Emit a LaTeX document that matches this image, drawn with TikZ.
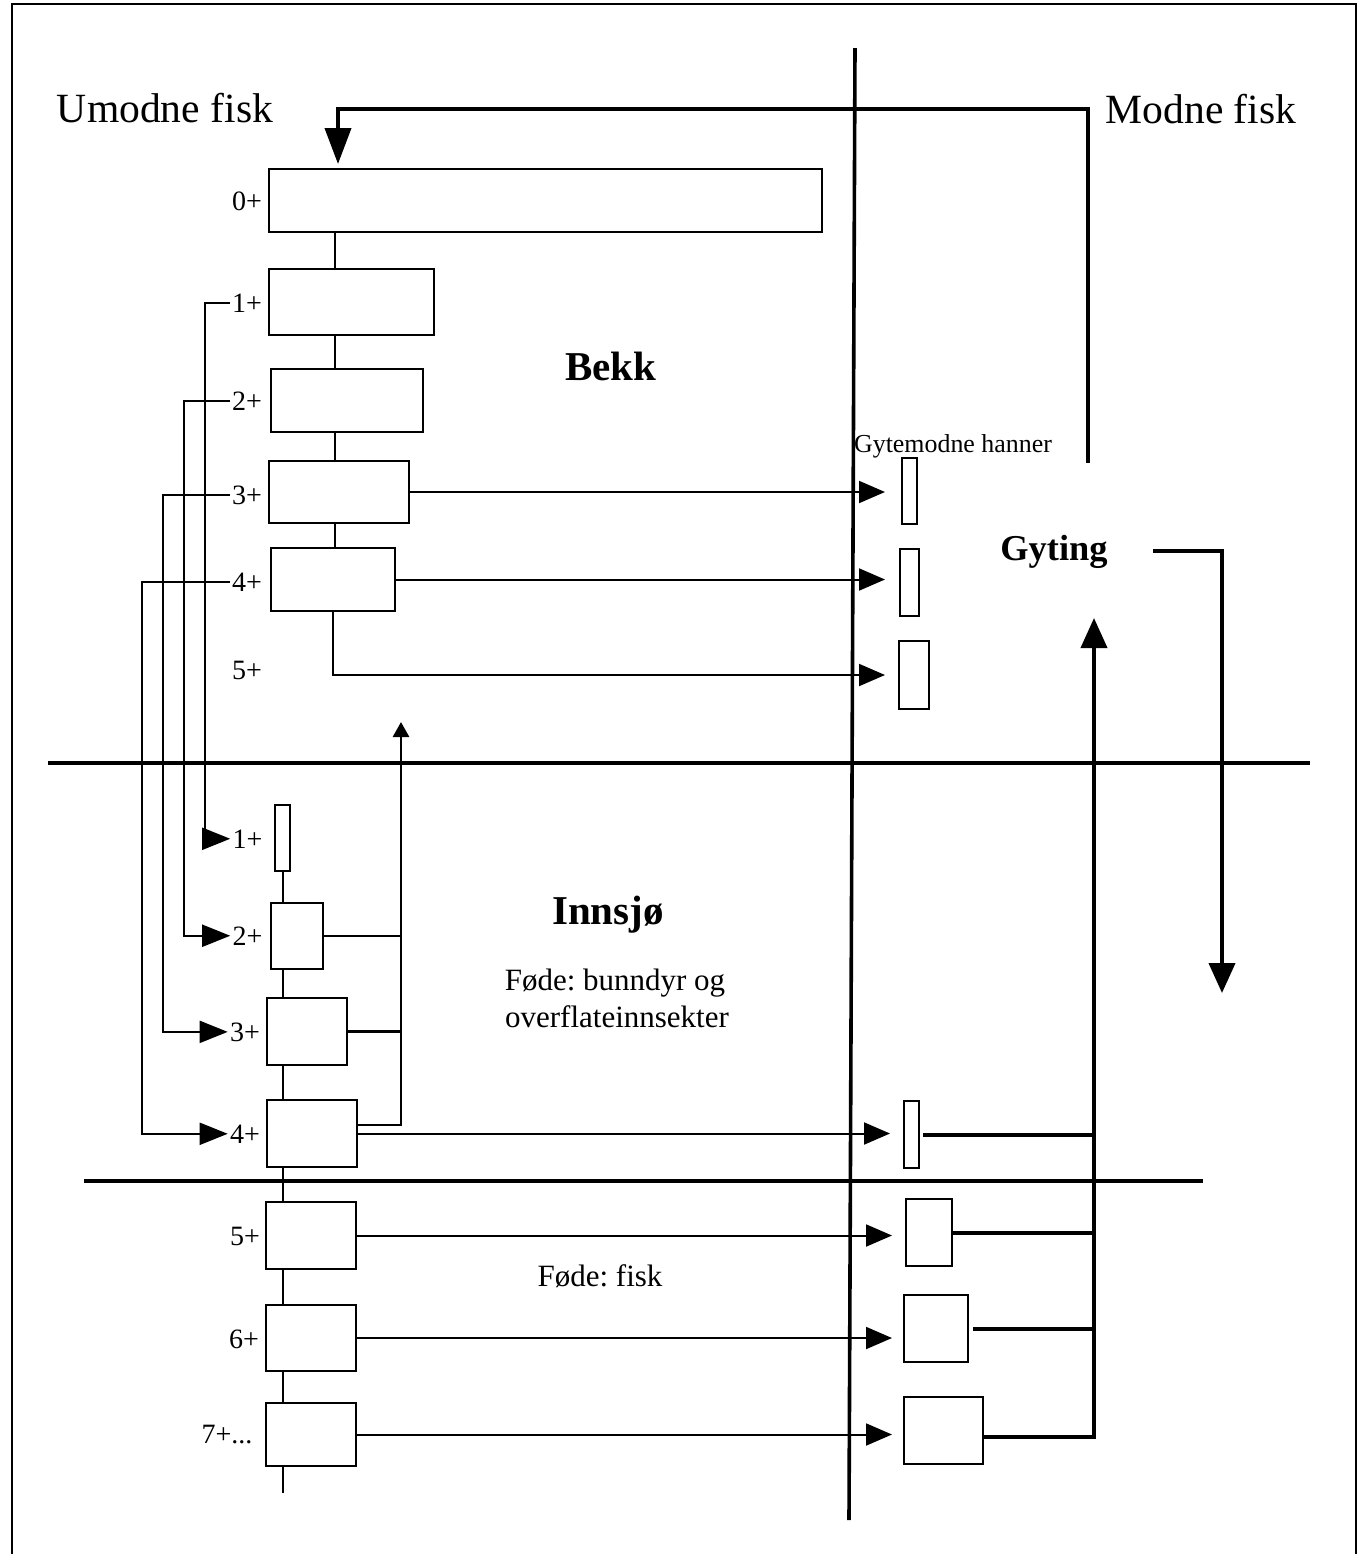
\documentclass[tikz,border=0pt]{standalone}
\usepackage{fontspec}
\setmainfont{Liberation Serif}
\usetikzlibrary{arrows.meta,calc}
\frenchspacing
\begin{document}
\begin{tikzpicture}[x=0.5pt,y=-0.5pt,
  box/.style={draw,line width=1pt,inner sep=0pt,fill=white},
  bx/.style 2 args={box,minimum width=#1*0.5pt,minimum height=#2*0.5pt},
  lab/.style={font=\fontsize{14}{16}\selectfont,anchor=base,inner sep=1pt},
  big/.style={font=\fontsize{20.8}{24}\selectfont,anchor=base,inner sep=0pt},
  head/.style={font=\fontsize{20.5}{24}\selectfont\bfseries,anchor=base,inner sep=0pt},
  food/.style={font=\fontsize{15.5}{18}\selectfont\frenchspacing,anchor=base,inner sep=0pt},
  conn/.style={line width=1pt},
  mid/.style={line width=1.4pt},
  thk/.style={line width=2pt},
  divline/.style={line width=1.8pt},
  rarr/.style={conn,-{Triangle[length=13pt,width=11pt]},shorten >=6.5pt},
  larr/.style={conn,-{Triangle[length=14pt,width=11pt]}},
  bigarr/.style={thk,-{Triangle[length=15pt,width=13pt]}}
]
\useasboundingbox (0,0) rectangle (1358,1554);
% frame
\coordinate (f1) at (12,1570);
\coordinate (f2) at (12,4);
\coordinate (f3) at (1356,4);
\coordinate (f4) at (1356,1570);
\draw[line width=1pt] (f1) -- (f2) -- (f3) -- (f4);

% dividers
\coordinate (dv1) at (855,48);
\coordinate (dv2) at (849,1520);
\coordinate (dh1a) at (48,763);
\coordinate (dh1b) at (1310,763);
\coordinate (dh2a) at (84,1181);
\coordinate (dh2b) at (1203,1181);
\draw[divline] (dv1) -- (dv2);
\draw[divline] (dh1a) -- (dh1b);
\draw[divline] (dh2a) -- (dh2b);

% titles
\node[big] (umodne) at (165,122) {Umodne fisk};
\node[big] (modne) at (1201,123) {Modne fisk};
\node[head] (bekk) at (611,380) {Bekk};
\node[head] (innsjo) at (608,924) {Innsjø};
\node[head,font=\fontsize{18.2}{22}\selectfont\bfseries] (gyting) at (1054,560) {Gyting};
\node[anchor=base,inner sep=0pt,font=\fontsize{12.95}{15}\selectfont] (hanner) at (953,452) {Gytemodne hanner};
\node[food] (fode1) at (615,990) {Føde: bunndyr og};
\node[food] (fode2) at (617,1027) {overflateinnsekter};
\node[food] (fode3) at (600,1286) {Føde: fisk};

% Bekk boxes
\node[bx={553}{63}] (b0) at (545.5,200.5) {};
\node[bx={165}{66}] (b1) at (351.5,302) {};
\node[bx={152}{63}] (b2) at (347,400.5) {};
\node[bx={140}{62}] (b3) at (339,492) {};
\node[bx={124}{63}] (b4) at (333,579.5) {};

% Innsjo boxes
\node[bx={15}{66}] (i1) at (282.5,838) {};
\node[bx={52}{66}] (i2) at (297,936) {};
\node[bx={80}{67}] (i3) at (307,1031.5) {};
\node[bx={90}{67}] (i4) at (312,1133.5) {};
\node[bx={90}{67}] (i5) at (311,1235.5) {};
\node[bx={90}{66}] (i6) at (311,1338) {};
\node[bx={90}{63}] (i7) at (311,1434.5) {};

% mature boxes
\node[bx={15}{66}] (r1) at (909.5,491) {};
\node[bx={19}{67}] (r2) at (909.5,582.5) {};
\node[bx={30}{68}] (r3) at (914,675) {};
\node[bx={15}{67}] (r4) at (911.5,1134.5) {};
\node[bx={46}{67}] (r5) at (929,1232.5) {};
\node[bx={64}{67}] (r6) at (936,1328.5) {};
\node[bx={79}{67}] (r7) at (943.5,1430.5) {};

% age labels
\node[lab] (lb0) at (247,210) {0+};
\node[lab] (lb1) at (247,312) {1+};
\node[lab] (lb2) at (247,410) {2+};
\node[lab] (lb3) at (247,504) {3+};
\node[lab] (lb4) at (247,591) {4+};
\node[lab] (lb5) at (247,679) {5+};
\node[lab] (li1) at (247.5,848) {1+};
\node[lab] (li2) at (247.5,945) {2+};
\node[lab] (li3) at (245,1041) {3+};
\node[lab] (li4) at (245,1143) {4+};
\node[lab] (li5) at (245,1245) {5+};
\node[lab] (li6) at (244,1348) {6+};
\node[lab] (li7) at (227,1443) {7+...};

% Bekk spine
\coordinate (xa) at (335,0);
\draw[conn] (b0.south -| xa) -- (b1.north -| xa);
\draw[conn] (b1.south -| xa) -- (b2.north -| xa);
\draw[conn] (b2.south -| xa) -- (b3.north -| xa);
\draw[conn] (b3.south -| xa) -- (b4.north -| xa);

% Innsjo spine
\coordinate (spend) at (282.5,1493);
\draw[conn] (i1.south) -- (i1.south |- i2.north);
\draw[conn] (i1.south |- i2.south) -- (i1.south |- i3.north);
\draw[conn] (i1.south |- i3.south) -- (i1.south |- i4.north);
\draw[conn] (i1.south |- i4.south) -- (i1.south |- i5.north);
\draw[conn] (i1.south |- i5.south) -- (i1.south |- i6.north);
\draw[conn] (i1.south |- i6.south) -- (i1.south |- i7.north);
\draw[conn] (i1.south |- i7.south) -- (spend);

% Bekk -> mature
\draw[rarr,shorten >=8pt] (b3.east) -- (b3.east -| r1.west);
\draw[rarr,shorten >=7pt] (b4.east) -- (b4.east -| r2.west);
\draw[rarr] (b4.south) |- (r3.west);

% Innsjo -> mature
\draw[rarr] (i4.east) -- (i4.east -| r4.west);
\draw[rarr] (i5.east) -- (i5.east -| r5.west);
\draw[rarr,shorten >=5.5pt] (i6.east) -- (i6.east -| r6.west);
\draw[rarr,shorten >=5.5pt] (i7.east) -- (i7.east -| r7.west);

% Bekk -> Innsjo migration loops
\coordinate (lx1) at (205,0);
\coordinate (lx2) at (184,0);
\coordinate (lx3) at (163,0);
\coordinate (lx4) at (142,0);
\draw[larr] (lb1.west) -- (lb1.west -| lx1) |- (li1.west);
\draw[larr] (lb2.west) -- (lb2.west -| lx2) |- (li2.west);
\draw[larr] (lb3.west) -- (lb3.west -| lx3) |- (li3.west);
\draw[larr] (lb4.west) -- (lb4.west -| lx4) |- (li4.west);

% Innsjo -> Bekk return
\coordinate (ux) at (401,0);
\coordinate (utip) at (401,722);
\draw[mid] (i2.east) -- (i2.east -| ux);
\draw[mid] (i3.east) -- (i3.east -| ux);
\draw[mid,-{Triangle[length=7.5pt,width=8pt]}] ([yshift=4.25pt]i4.east) -| (utip);

% mature -> spawning
\coordinate (gx) at (1094,0);
\coordinate (gtip) at (1094,618);
\draw[thk] ([xshift=1.5pt]r4.east) -- (r4.east -| gx);
\draw[thk] (r5.east) -- (r5.east -| gx);
\draw[thk] ([xshift=2pt]r6.east) -- (r6.east -| gx);
\draw[bigarr] ([yshift=-3.25pt]r7.east) -| (gtip);

% spawning -> down
\coordinate (gs) at (1153,551);
\coordinate (gd) at (1222,993);
\draw[bigarr] (gs) -| (gd);

% spawning -> new 0+
\coordinate (ts) at (1088,463);
\coordinate (tc) at (338,109);
\draw[thk,-{Triangle[length=18pt,width=13pt]},shorten >=2pt] (ts) |- (tc) -- (tc |- b0.north);
\end{tikzpicture}
\end{document}
